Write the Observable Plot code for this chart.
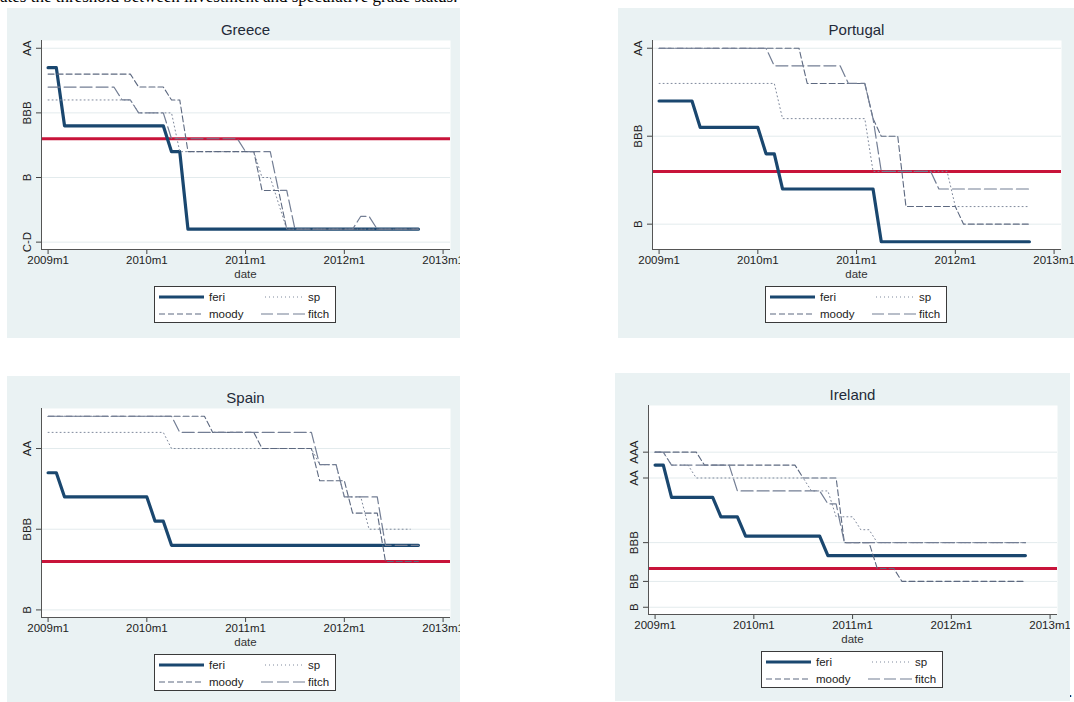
<!DOCTYPE html>
<html>
<head>
<meta charset="utf-8">
<script src="https://cdn.jsdelivr.net/npm/d3@7"></script>
<script src="https://cdn.jsdelivr.net/npm/@observablehq/plot@0.6"></script>
<style>
  html, body { margin: 0; padding: 0; }
  body { width: 1074px; height: 702px; position: relative; overflow: hidden; background: #fff;
         font-family: "Liberation Sans", Arial, sans-serif; }
  .panel { position: absolute; background: #eaf2f3; overflow: hidden; }
  .title { position: absolute; font-size: 15px; color: #1f2a38; transform: translate(-50%, -50%); white-space: nowrap; }
  .xlab { position: absolute; font-size: 11.5px; color: #333; transform: translate(-50%, -50%); }
  .legend { position: absolute; background: #fff; border: 1px solid #3a3a3a; box-sizing: border-box; }
  svg.rplot text { font-size: 11.5px; }
  #topnote { position: absolute; left: 0; top: -12px; line-height: 17px; font-family: "Liberation Serif", "Times New Roman", serif;
             font-size: 17px; color: #000; white-space: nowrap; }
  #dot { position: absolute; left: 1068px; top: 682px; font-family: "Liberation Serif", serif; font-size: 17px; }
</style>
</head>
<body>
<div id="topnote">ates the threshold between investment and speculative grade status.</div>
<div id="dot">.</div>
<script>
// ---------- shared axis values ----------
const xTickMonths = [0, 12, 24, 36, 48];           // months since 2009m1
const xTickLabels = ["2009m1", "2010m1", "2011m1", "2012m1", "2013m1"];
const threshold = 10;                               // investment / speculative grade threshold
const seriesNames = ["feri", "sp", "moody", "fitch"];

// rating scale: AAA=1, AA=3, BBB=8, BB=11, B=13, C-D=18
// ---------- Greece ----------
const greeceTicks = [3, 8, 13, 18];
const greeceTickLabels = ["AA", "BBB", "B", "C-D"];
const greeceFeri  = [[0,4.5],[1,4.5],[2,9],[14,9],[15,11],[16,11],[17,17],[45,17]];
const greeceSp    = [[0,7],[10,7],[11,8],[15,8],[16,11],[25,11],[26,13],[27,13],[28,15],[29,17],[45,17]];
const greeceMoody = [[0,5],[10,5],[11,6],[14,6],[15,7],[16,7],[17,11],[25,11],[26,14],[28,14],[29,17],[45,17]];
const greeceFitch = [[0,6],[8,6],[9,7],[10,7],[11,8],[14,8],[15,10],[23,10],[24,11],[27,11],[28,14],[29,14],[30,17],[37,17],[38,16],[39,16],[40,17],[45,17]];

// ---------- Portugal ----------
const portugalTicks = [3, 8, 13];
const portugalTickLabels = ["AA", "BBB", "B"];
const portugalFeri  = [[0,6],[4,6],[5,7.5],[12,7.5],[13,9],[14,9],[15,11],[26,11],[27,14],[45,14]];
const portugalSp    = [[0,5],[14,5],[15,7],[25,7],[26,10],[35,10],[36,12],[45,12]];
const portugalMoody = [[0,3],[17,3],[18,5],[25,5],[26,7],[27,8],[29,8],[30,12],[36,12],[37,13],[45,13]];
const portugalFitch = [[0,3],[13,3],[14,4],[22,4],[23,5],[25,5],[26,7],[27,10],[33,10],[34,11],[45,11]];

// ---------- Spain ----------
const spainTicks = [3, 8, 13];
const spainTickLabels = ["AA", "BBB", "B"];
const spainFeri  = [[0,4.5],[1,4.5],[2,6],[12,6],[13,7.5],[14,7.5],[15,9],[45,9]];
const spainSp    = [[0,2],[14,2],[15,3],[32,3],[33,4],[35,4],[36,6],[38,6],[39,8],[44,8]];
const spainMoody = [[0,1],[19,1],[20,2],[25,2],[26,3],[32,3],[33,5],[36,5],[37,7],[40,7],[41,10],[45,10]];
const spainFitch = [[0,1],[15,1],[16,2],[32,2],[33,4],[35,4],[36,6],[40,6],[41,9],[45,9]];

// ---------- Ireland ----------
const irelandTicks = [1, 3, 8, 11, 13];
const irelandTickLabels = ["AAA", "AA", "BBB", "BB", "B"];
const irelandFeri  = [[0,2],[1,2],[2,4.5],[7,4.5],[8,6],[10,6],[11,7.5],[20,7.5],[21,9],[45,9]];
const irelandSp    = [[0,1],[1,1],[2,2],[4,2],[5,3],[18,3],[19,4],[21,4],[22,6],[24,6],[25,7],[26,7],[27,8],[45,8]];
const irelandMoody = [[0,1],[5,1],[6,2],[17,2],[18,3],[22,3],[23,8],[26,8],[27,10],[29,10],[30,11],[45,11]];
const irelandFitch = [[0,1],[1,1],[2,2],[9,2],[10,4],[20,4],[21,5],[22,5],[23,8],[45,8]];

// ---------- styles ----------
const styles = {
  feri:  {stroke: "#1a476f", strokeWidth: 3.2, strokeLinejoin: "round", strokeLinecap: "round"},
  sp:    {stroke: "#7f899c", strokeWidth: 1, strokeDasharray: "1,3"},
  moody: {stroke: "#5d6980", strokeWidth: 1.1, strokeDasharray: "6,3"},
  fitch: {stroke: "#737e94", strokeWidth: 1.2, strokeDasharray: "12,4"}
};
const red = "#c8143a";

function drawPanel(cfg) {
  const {left, top, width, height, mL, mT, mR, mB, title, yTop, yBottom, ticks, tickLabels, data} = cfg;
  const div = document.createElement("div");
  div.className = "panel";
  Object.assign(div.style, {left: left + "px", top: top + "px", width: width + "px", height: height + "px"});
  document.body.append(div);

  const rows = arr => arr.map(([t, v]) => ({t, v}));
  const xMin = -0.8, xMax = 48.9;
  const lineMarks = seriesNames.map(n => Plot.line(rows(data[n]), {x: "t", y: "v", ...styles[n]}));

  const svg = Plot.plot({
    width, height,
    className: "rplot",
    marginLeft: mL, marginTop: mT, marginRight: mR, marginBottom: mB,
    style: {background: "transparent", fontFamily: "'Liberation Sans', Arial, sans-serif", fontSize: "11.5px", color: "#333", overflow: "visible"},
    x: {domain: [xMin, xMax], label: null},
    y: {domain: [yBottom, yTop], label: null},
    marks: [
      Plot.frame({fill: "white", stroke: null}),
      Plot.gridY(ticks, {stroke: "#e3ebed", strokeOpacity: 1, strokeWidth: 1}),
      Plot.ruleY([threshold], {stroke: red, strokeWidth: 3}),
      ...lineMarks,
      Plot.axisX(xTickMonths, {tickFormat: d => xTickLabels[xTickMonths.indexOf(d)], tickSize: 5, tickPadding: 1,
                                label: null, stroke: "#444", fill: "#222"}),
      Plot.axisY(ticks, {tickFormat: () => "", tickSize: 5, label: null, stroke: "#444"}),
      Plot.text(ticks, {y: d => d, text: d => tickLabels[ticks.indexOf(d)], frameAnchor: "left", dx: -14,
                        rotate: -90, textAnchor: "middle", fill: "#222"}),
      Plot.ruleX([xMin], {stroke: "#555", strokeWidth: 1}),
      Plot.ruleY([yBottom], {stroke: "#555", strokeWidth: 1})
    ]
  });
  svg.style.position = "absolute";
  svg.style.left = "0px";
  svg.style.top = "0px";
  div.append(svg);

  const cx = mL + (width - mL - mR) / 2;
  const plotBottom = height - mB;

  const t = document.createElement("div");
  t.className = "title"; t.textContent = title;
  t.style.left = cx + "px"; t.style.top = "21px";
  div.append(t);

  const xl = document.createElement("div");
  xl.className = "xlab"; xl.textContent = "date";
  xl.style.left = cx + "px"; xl.style.top = (plotBottom + 25) + "px";
  div.append(xl);

  // legend
  const lw = 182, lh = 37;
  const lg = document.createElement("div");
  lg.className = "legend";
  Object.assign(lg.style, {left: (cx - lw / 2 - 1) + "px", top: (plotBottom + 37) + "px", width: lw + "px", height: lh + "px"});
  div.append(lg);
  const ls = d3.select(lg).append("svg").attr("width", lw - 2).attr("height", lh - 2)
    .style("position", "absolute").style("left", "0px").style("top", "0px");
  const items = [
    {n: "feri",  x1: 4,   x2: 49,  y: 10, tx: 54},
    {n: "sp",    x1: 110, x2: 150, y: 10, tx: 153},
    {n: "moody", x1: 4,   x2: 49,  y: 27, tx: 54},
    {n: "fitch", x1: 106, x2: 150, y: 27, tx: 153}
  ];
  for (const it of items) {
    const s = styles[it.n];
    ls.append("line").attr("x1", it.x1).attr("x2", it.x2).attr("y1", it.y).attr("y2", it.y)
      .attr("stroke", s.stroke).attr("stroke-width", s.strokeWidth)
      .attr("stroke-dasharray", s.strokeDasharray || null);
    ls.append("text").attr("x", it.tx).attr("y", it.y + 4).attr("font-size", 11.5)
      .attr("font-family", "'Liberation Sans', Arial, sans-serif").attr("fill", "#222").text(it.n);
  }
}

drawPanel({left: 7, top: 8, width: 453, height: 330, mL: 34, mT: 32, mR: 10, mB: 89,
  title: "Greece", yTop: 2.4, yBottom: 18.57, ticks: greeceTicks, tickLabels: greeceTickLabels,
  data: {feri: greeceFeri, sp: greeceSp, moody: greeceMoody, fitch: greeceFitch}});

drawPanel({left: 618, top: 8, width: 456, height: 330, mL: 34, mT: 32, mR: 13, mB: 89,
  title: "Portugal", yTop: 2.56, yBottom: 14.44, ticks: portugalTicks, tickLabels: portugalTickLabels,
  data: {feri: portugalFeri, sp: portugalSp, moody: portugalMoody, fitch: portugalFitch}});

drawPanel({left: 7, top: 376, width: 453, height: 326, mL: 34, mT: 32, mR: 10, mB: 85,
  title: "Spain", yTop: 0.52, yBottom: 13.47, ticks: spainTicks, tickLabels: spainTickLabels,
  data: {feri: spainFeri, sp: spainSp, moody: spainMoody, fitch: spainFitch}});

drawPanel({left: 615, top: 373, width: 455, height: 328, mL: 33, mT: 32, mR: 13, mB: 87,
  title: "Ireland", yTop: -2.61, yBottom: 13.56, ticks: irelandTicks, tickLabels: irelandTickLabels,
  data: {feri: irelandFeri, sp: irelandSp, moody: irelandMoody, fitch: irelandFitch}});
</script>
</body>
</html>
